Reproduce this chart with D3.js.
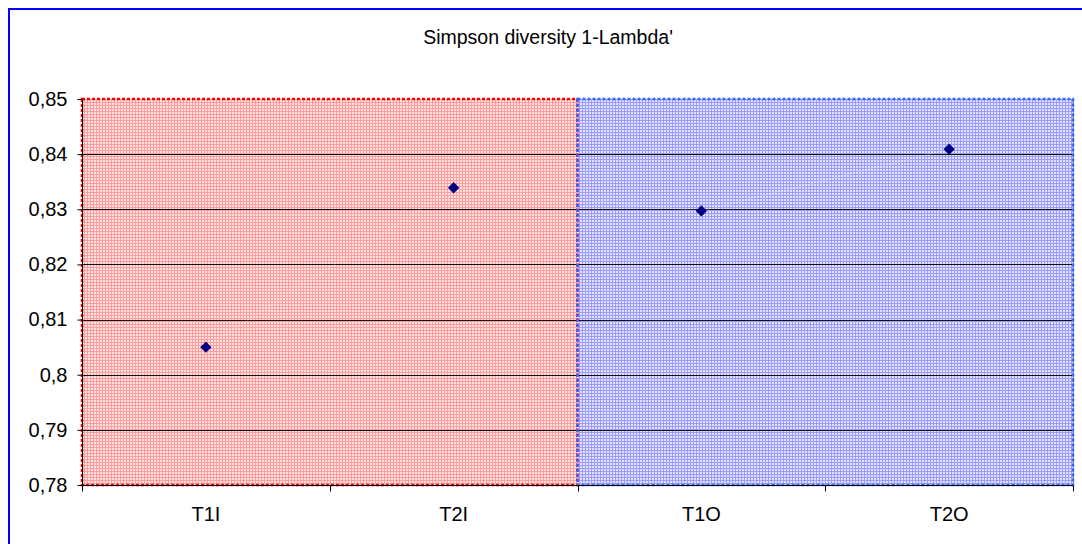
<!DOCTYPE html>
<html>
<head>
<meta charset="utf-8">
<script src="https://cdn.jsdelivr.net/npm/d3@7"></script>
<style>
  html, body { margin: 0; padding: 0; background: #fff; }
  svg { display: block; font-family: "Liberation Sans", Arial, sans-serif; }
</style>
</head>
<body>
<svg id="chart" width="1082" height="544"></svg>
<script>
// Simpson diversity (1 - Lambda') per sample
const categories = ["T1I", "T2I", "T1O", "T2O"];
const values = [0.805, 0.8339, 0.8297, 0.8409];
const yTicks = [0.78, 0.79, 0.80, 0.81, 0.82, 0.83, 0.84, 0.85];
const tickLabels = ["0,78", "0,79", "0,8", "0,81", "0,82", "0,83", "0,84", "0,85"];
// shaded groups: first two samples (I) and last two (O)
const groups = [
  { from: 0, to: 2, key: "red" },
  { from: 2, to: 4, key: "blue" }
];

const svg = d3.select("#chart");
const margin = { left: 82, right: 1073, top: 99, bottom: 485 };

const x = d3.scaleBand().domain(categories).range([margin.left, margin.right]).padding(0);
const y = d3.scaleLinear().domain([0.78, 0.85]).range([margin.bottom, margin.top]);

// outer chart frame
svg.append("rect")
  .attr("x", 9).attr("y", 9).attr("width", 1090).attr("height", 560)
  .attr("fill", "none").attr("stroke", "#0000ff").attr("stroke-width", 2);

// title
svg.append("text")
  .attr("x", 548).attr("y", 44)
  .attr("text-anchor", "middle")
  .attr("font-size", 19.5)
  .text("Simpson diversity 1-Lambda'");

// fine grid hatching for the shaded areas
const defs = svg.append("defs");
const patterns = {
  red: { bg: "#ffe2e2", line: "#ff9c9c" },
  blue: { bg: "#e2e2ff", line: "#9c9cff" }
};
Object.entries(patterns).forEach(([key, c]) => {
  const p = defs.append("pattern")
    .attr("id", "hatch-" + key)
    .attr("patternUnits", "userSpaceOnUse")
    .attr("width", 3).attr("height", 3);
  p.append("rect").attr("width", 3).attr("height", 3).attr("fill", c.bg);
  p.append("rect").attr("width", 3).attr("height", 1).attr("fill", c.line);
  p.append("rect").attr("width", 1).attr("height", 3).attr("fill", c.line);
});

const stepW = x.bandwidth();
groups.forEach(g => {
  svg.append("rect")
    .attr("x", x(categories[g.from]))
    .attr("y", y(0.85))
    .attr("width", stepW * (g.to - g.from))
    .attr("height", y(0.78) - y(0.85))
    .attr("fill", "url(#hatch-" + g.key + ")");
});

// plot area border (grey right edge)
svg.append("line")
  .attr("x1", margin.right + 0.5).attr("x2", margin.right + 0.5)
  .attr("y1", y(0.85)).attr("y2", y(0.78))
  .attr("stroke", "#888").attr("stroke-width", 1);

// horizontal gridlines
svg.append("g")
  .selectAll("line")
  .data(yTicks.slice(1, -1))
  .join("line")
  .attr("x1", margin.left).attr("x2", margin.right)
  .attr("y1", d => Math.round(y(d)) + 0.5).attr("y2", d => Math.round(y(d)) + 0.5)
  .attr("stroke", "#111").attr("stroke-width", 1);

// dotted outlines of the shaded groups
const groupStroke = { red: "#ff0000", blue: "#3366ff" };
groups.forEach(g => {
  svg.append("rect")
    .attr("x", x(categories[g.from]))
    .attr("y", y(0.85))
    .attr("width", stepW * (g.to - g.from))
    .attr("height", y(0.78) - y(0.85))
    .attr("fill", "none")
    .attr("stroke", groupStroke[g.key])
    .attr("stroke-width", 2.5)
    .attr("stroke-dasharray", "3 2");
});

// connecting line between samples (white, barely visible)
svg.append("path")
  .datum(values)
  .attr("fill", "none")
  .attr("stroke", "#ffffff")
  .attr("stroke-opacity", 0.2)
  .attr("stroke-width", 1)
  .attr("d", d3.line()
    .x((d, i) => x(categories[i]) + stepW / 2)
    .y(d => y(d)));

// y axis
const yAxis = d3.axisLeft(y)
  .tickValues(yTicks)
  .tickFormat((d, i) => tickLabels[i])
  .tickSize(5)
  .tickPadding(10);
const gy = svg.append("g")
  .attr("transform", `translate(${margin.left + 0.5},0)`)
  .call(yAxis)
  .attr("font-size", 20)
  .attr("font-family", "'Liberation Sans', Arial, sans-serif");
gy.selectAll("text").attr("fill", "#000");
gy.selectAll("line, path").attr("stroke", "#000");
gy.select(".domain").attr("d", `M0,${y(0.85)}V${y(0.78)}`);

// x axis: ticks at category boundaries, labels centred in each band
const gx = svg.append("g")
  .attr("transform", `translate(0,${margin.bottom + 0.5})`);
gx.append("line")
  .attr("x1", margin.left).attr("x2", margin.right)
  .attr("stroke", "#000");
const boundaries = categories.map(c => x(c) + stepW).concat([x(categories[0])]);
gx.selectAll(".tick-b")
  .data(boundaries)
  .join("line")
  .attr("class", "tick-b")
  .attr("x1", d => Math.round(d) + 0.5).attr("x2", d => Math.round(d) + 0.5)
  .attr("y1", 0).attr("y2", 6)
  .attr("stroke", "#000");
gx.selectAll("text")
  .data(categories)
  .join("text")
  .attr("x", d => x(d) + stepW / 2)
  .attr("y", 35)
  .attr("text-anchor", "middle")
  .attr("font-size", 20)
  .text(d => d);

// diamond markers
const diamond = d3.symbol().type(d3.symbolSquare).size(64);
svg.append("g")
  .selectAll("path")
  .data(values)
  .join("path")
  .attr("d", diamond)
  .attr("transform", (d, i) => `translate(${x(categories[i]) + stepW / 2},${y(d)}) rotate(45)`)
  .attr("fill", "#000080");
</script>
</body>
</html>
